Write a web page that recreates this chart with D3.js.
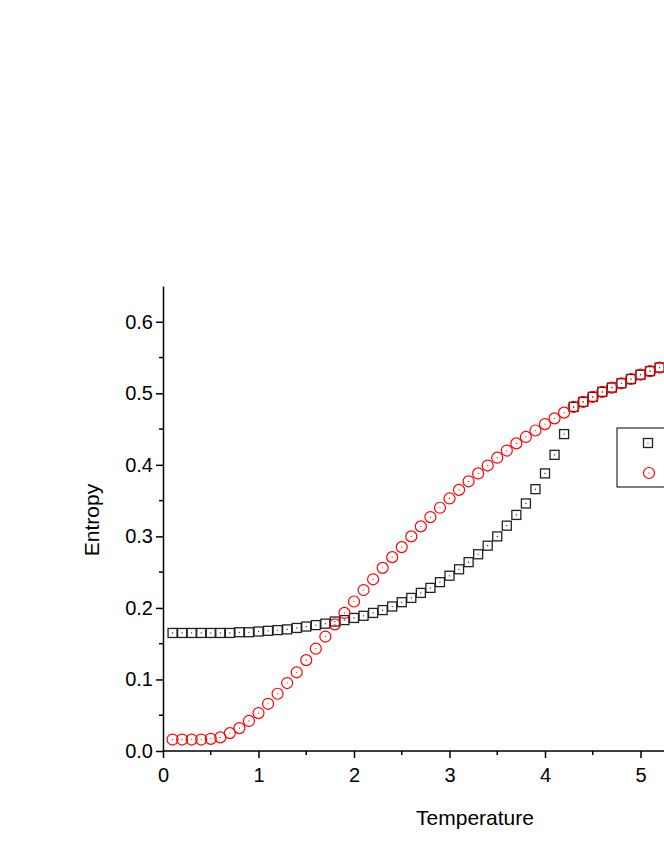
<!DOCTYPE html>
<html><head><meta charset="utf-8">
<script src="https://cdn.jsdelivr.net/npm/d3@7"></script>
<style>body{margin:0;background:#fff}svg{display:block}</style>
</head><body><div id="chart"></div>
<script>
const temps = d3.range(1, 53).map(i => i / 10);
const squareS = [0.165,0.165,0.165,0.165,0.165,0.165,0.165,0.166,0.166,0.167,0.168,0.169,0.170,0.172,0.174,0.176,0.178,0.181,0.183,0.186,0.189,0.193,0.197,0.202,0.208,0.214,0.221,0.228,0.236,0.245,0.254,0.264,0.275,0.287,0.300,0.315,0.330,0.346,0.366,0.388,0.414,0.443,0.481,0.488,0.495,0.502,0.508,0.514,0.520,0.526,0.531,0.536];
const circleS = [0.016,0.016,0.016,0.016,0.017,0.019,0.025,0.032,0.042,0.053,0.066,0.080,0.095,0.110,0.127,0.143,0.160,0.177,0.193,0.209,0.225,0.240,0.256,0.271,0.285,0.300,0.314,0.327,0.340,0.353,0.365,0.377,0.388,0.399,0.410,0.420,0.430,0.439,0.448,0.457,0.465,0.473,0.481,0.488,0.495,0.502,0.508,0.514,0.520,0.526,0.531,0.536];
const xTicks = [0, 1, 2, 3, 4, 5];
const yTicks = [0, 0.1, 0.2, 0.3, 0.4, 0.5, 0.6];

const svg = d3.select('#chart').append('svg').attr('width', 664).attr('height', 860);
const x = d3.scaleLinear().domain([0, 6]).range([163, 736]);
const y = d3.scaleLinear().domain([0, 0.65]).range([751, 286]);
const font = 'Liberation Sans, Arial, sans-serif';

// minor ticks
svg.append('g').selectAll('line').data(d3.range(0.5, 6, 1)).enter().append('line')
  .attr('x1', d => x(d)).attr('x2', d => x(d)).attr('y1', 751).attr('y2', 755)
  .attr('stroke', '#000').attr('stroke-width', 1.5);
svg.append('g').selectAll('line').data(d3.range(0.05, 0.65, 0.1)).enter().append('line')
  .attr('y1', d => y(d)).attr('y2', d => y(d)).attr('x1', 163).attr('x2', 159)
  .attr('stroke', '#000').attr('stroke-width', 1.5);

const xAxis = svg.append('g').attr('transform', 'translate(0,751)')
  .call(d3.axisBottom(x).tickValues(xTicks).tickFormat(d3.format('d')).tickSize(7).tickSizeOuter(0));
const yAxis = svg.append('g').attr('transform', 'translate(163,0)')
  .call(d3.axisLeft(y).tickValues(yTicks).tickFormat(d3.format('.1f')).tickSize(7).tickSizeOuter(0));
[xAxis, yAxis].forEach(g => {
  g.selectAll('path,line').attr('stroke', '#000').attr('stroke-width', 1.5);
  g.selectAll('text').attr('font-family', font).attr('font-size', 20).attr('fill', '#000');
});
xAxis.select('.domain').attr('d', 'M163,0H664');
xAxis.selectAll('text').attr('dy', '1.05em');

svg.append('text').attr('x', 475).attr('y', 825).attr('text-anchor', 'middle')
  .attr('font-family', font).attr('font-size', 21).text('Temperature');
svg.append('text').attr('transform', 'translate(99,520) rotate(-90)').attr('text-anchor', 'middle')
  .attr('font-family', font).attr('font-size', 21).text('Entropy');

const sq = svg.append('g').selectAll('g').data(temps).enter().append('g')
  .attr('transform', (d, i) => `translate(${x(d)},${y(squareS[i])})`);
sq.append('rect').attr('x', -4.5).attr('y', -4.5).attr('width', 9).attr('height', 9)
  .attr('fill', 'none').attr('stroke', '#222').attr('stroke-width', 1.3);
sq.append('circle').attr('r', 0.6).attr('fill', '#000');

const ci = svg.append('g').selectAll('g').data(temps).enter().append('g')
  .attr('transform', (d, i) => `translate(${x(d)},${y(circleS[i])})`);
ci.append('circle').attr('r', 5.5).attr('fill', 'none').attr('stroke', '#f00').attr('stroke-width', 1.2);
ci.append('circle').attr('r', 0.6).attr('fill', '#f00');

// legend
svg.append('rect').attr('x', 617).attr('y', 428).attr('width', 80).attr('height', 59)
  .attr('fill', '#fff').attr('stroke', '#000').attr('stroke-width', 1);
svg.append('rect').attr('x', 643.5).attr('y', 438.5).attr('width', 9).attr('height', 9)
  .attr('fill', 'none').attr('stroke', '#222').attr('stroke-width', 1.3);
svg.append('circle').attr('cx', 648).attr('cy', 443).attr('r', 0.6);
svg.append('circle').attr('cx', 649).attr('cy', 473).attr('r', 5.5)
  .attr('fill', 'none').attr('stroke', '#f00').attr('stroke-width', 1.2);
svg.append('circle').attr('cx', 649).attr('cy', 473).attr('r', 0.6).attr('fill', '#f00');
</script></body></html>
